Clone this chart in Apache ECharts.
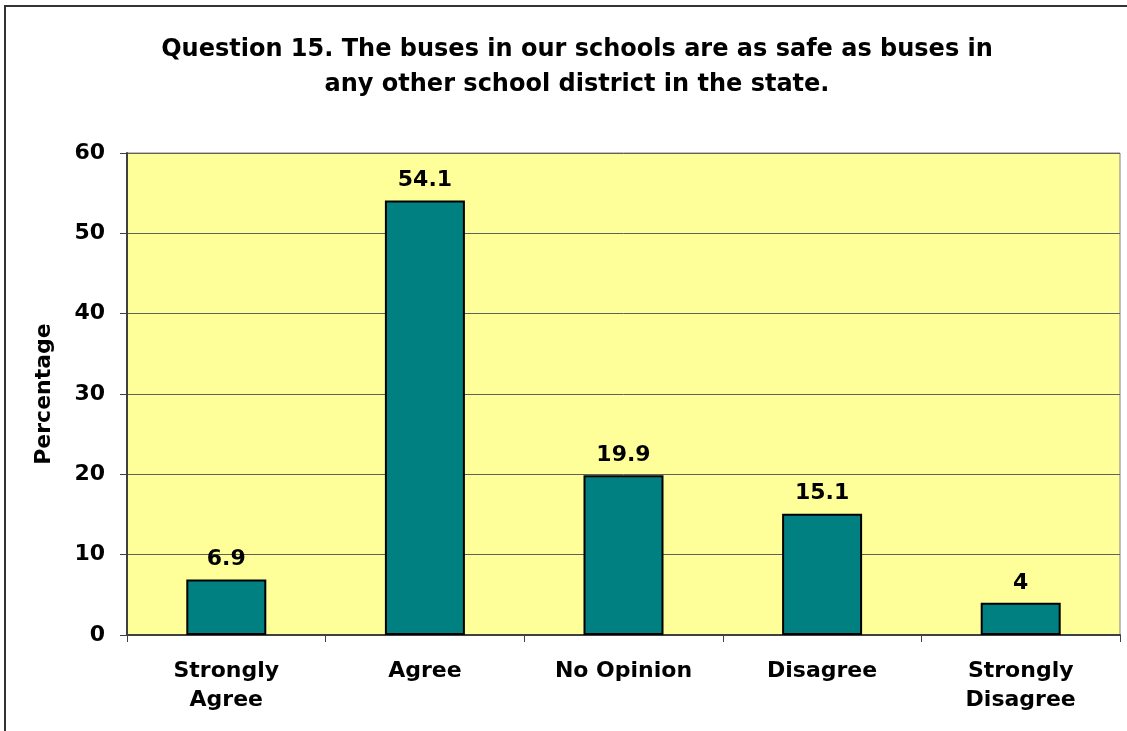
<!DOCTYPE html>
<html>
<head>
<meta charset="utf-8">
<script src="https://cdn.jsdelivr.net/npm/echarts@6/dist/echarts.min.js"></script>
<style>
  html, body { margin: 0; padding: 0; background: #ffffff; }
  #chart { width: 1127px; height: 731px; }
</style>
</head>
<body>
<div id="chart"></div>
<script>
// Survey responses for question 15
const categories = ['Strongly\nAgree', 'Agree', 'No Opinion', 'Disagree', 'Strongly\nDisagree'];
const percentages = [6.9, 54.1, 19.9, 15.1, 4];
const yTicks = { min: 0, max: 60, interval: 10 };

const font = 'Verdana, "DejaVu Sans", sans-serif';
const chart = echarts.init(document.getElementById('chart'));

chart.setOption({
  backgroundColor: '#ffffff',
  animation: false,
  title: {
    text: 'Question 15. The buses in our schools are as safe as buses in\nany other school district in the state.',
    left: 572,
    top: 27,
    textAlign: 'center',
    textStyle: {
      fontFamily: font,
      fontWeight: 'bold',
      fontSize: 24,
      lineHeight: 35,
      color: '#000000'
    }
  },
  graphic: [{
    type: 'rect',
    shape: { x: 5, y: 6, width: 1200, height: 800 },
    style: { fill: 'none', stroke: '#333333', lineWidth: 2 },
    silent: true
  }],
  grid: {
    left: 127,
    right: 7,
    top: 153,
    bottom: 96,
    show: true,
    backgroundColor: '#ffff99',
    borderColor: '#808080',
    borderWidth: 1
  },
  xAxis: {
    type: 'category',
    data: categories,
    axisLine: { lineStyle: { color: '#404040', width: 2 } },
    axisTick: { show: true, length: 7, lineStyle: { color: '#404040' } },
    axisLabel: {
      fontFamily: font,
      fontWeight: 'bold',
      fontSize: 22,
      lineHeight: 29,
      color: '#000000',
      margin: 22
    }
  },
  yAxis: {
    type: 'value',
    min: yTicks.min,
    max: yTicks.max,
    interval: yTicks.interval,
    name: 'Percentage',
    nameLocation: 'middle',
    nameGap: 72,
    nameRotate: 90,
    nameTextStyle: {
      fontFamily: font,
      fontWeight: 'bold',
      fontSize: 22,
      color: '#000000'
    },
    axisLine: { show: true, lineStyle: { color: '#404040', width: 2 } },
    axisTick: { show: true, length: 7, lineStyle: { color: '#404040' } },
    axisLabel: {
      fontFamily: font,
      fontWeight: 'bold',
      fontSize: 22,
      color: '#000000',
      margin: 22
    },
    splitLine: { show: true, lineStyle: { color: '#606060', width: 1 } }
  },
  series: [{
    type: 'bar',
    data: percentages,
    barWidth: 80,
    itemStyle: {
      color: '#008080',
      borderColor: '#000000',
      borderWidth: 2
    },
    label: {
      show: true,
      position: 'top',
      distance: 9,
      fontFamily: font,
      fontWeight: 'bold',
      fontSize: 22,
      color: '#000000'
    }
  }]
});
</script>
</body>
</html>
